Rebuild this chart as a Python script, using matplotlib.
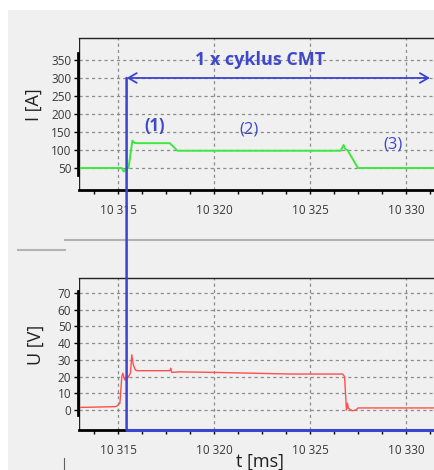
import matplotlib
matplotlib.use("Agg")
import matplotlib.pyplot as plt
from matplotlib.ticker import MultipleLocator, FuncFormatter, FixedLocator
from matplotlib.patches import ConnectionPatch, Rectangle
from matplotlib.lines import Line2D

plt.rcParams['font.family'] = ['Open Sans', 'DejaVu Sans']

# proud I [A]
t_I = [10313.0, 10315.2, 10315.3, 10315.45, 10315.55, 10315.75, 10315.85, 10316.0,
       10317.7, 10318.1, 10320.0, 10324.0, 10326.6, 10326.75, 10326.85, 10326.95,
       10327.5, 10332.0]
I_val = [50, 50, 40, 49, 50, 126, 120, 119,
         119, 98, 98, 98, 98, 114, 102, 100,
         50, 50]

# napeti U [V]
t_U = [10313.0, 10314.9, 10315.0, 10315.1, 10315.2, 10315.25, 10315.35, 10315.5,
       10315.65, 10315.72, 10315.8, 10315.9, 10316.0, 10317.7, 10317.75, 10317.8,
       10318.2, 10320.0, 10322.0, 10324.0, 10326.7, 10326.8, 10326.9, 10326.95,
       10327.0, 10327.2, 10327.4, 10327.5, 10332.0]
U_val = [1.5, 2, 3, 4, 20, 22, 18, 19,
         22, 33, 27, 24, 23.5, 23.5, 25, 22.5,
         22.8, 22.5, 22, 21.5, 21.5, 20, 0, 4,
         1, -0.5, 0, 1.2, 1.2]

I_ticks = [50, 100, 150, 200, 250, 300, 350]
U_ticks = [0, 10, 20, 30, 40, 50, 60, 70]

t_start = 10315.45   # zacatek cyklu
t_end = 10331.25
xlim = (10312.97, 10332.0)

blue = '#3a44d0'
txt_blue = '#3f48cc'
bg = '#f0f0f0'
tick_col = '#383838'

W, H = 435, 470
fig = plt.figure(figsize=(W / 100, H / 100), dpi=100, facecolor='white')
fig.add_artist(Rectangle((8 / W, 0), 1, 1 - 10 / H, transform=fig.transFigure,
                         facecolor=bg, edgecolor='none', zorder=-10))

ax_w = (xlim[1] - xlim[0]) * 19.2 / W
ax1 = fig.add_axes([79 / W, 1 - 190 / H, ax_w, 152 / H])
ax2 = fig.add_axes([79 / W, 1 - 430 / H, ax_w, 152 / H])


def fmt(v, pos):
    s = "%d" % round(v)
    return s[:-3] + " " + s[-3:]


for ax, ticks, ylim, bnd in [(ax1, I_ticks, (-11, 411), (30, 370)),
                             (ax2, U_ticks, (-12, 79), (-3, 71))]:
    ax.set_facecolor(bg)
    ax.set_xlim(*xlim)
    ax.set_ylim(*ylim)
    ax.xaxis.set_major_locator(MultipleLocator(5))
    ax.xaxis.set_minor_locator(MultipleLocator(1.25))
    ax.xaxis.set_major_formatter(FuncFormatter(fmt))
    ax.yaxis.set_major_locator(FixedLocator(ticks))
    ax.grid(True, which='major', ls=(0, (2.5, 2.5)), color='#8c8c8c', lw=0.9)
    ax.tick_params(axis='x', which='both', direction='out', length=3, width=1,
                   pad=7, labelsize=8.5, labelcolor=tick_col)
    ax.tick_params(axis='y', direction='out', length=3, width=1, pad=1.5,
                   labelsize=8.5, labelcolor=tick_col)
    ax.spines['left'].set_bounds(*bnd)
    ax.spines['left'].set_linewidth(2)
    ax.spines['left'].set_position(('outward', 1))
    ax.spines['bottom'].set_linewidth(2)
    ax.spines['top'].set_linewidth(1)
    ax.spines['top'].set_color('#222222')
    ax.axvline(xlim[0], color='#222222', lw=1)

ax1.plot(t_I, I_val, color='#3de83d', lw=1.4)
ax2.plot(t_U, U_val, color='#ff4f4f', lw=1.0)

# sipka 1 cyklus
ax1.annotate('', xy=(t_end, 300), xytext=(t_start, 300),
             arrowprops=dict(arrowstyle='<->,head_length=0.6,head_width=0.35',
                             color=blue, lw=1.3, shrinkA=0, shrinkB=0))
ax1.text(10322.4, 350, '1 x cyklus CMT', color=txt_blue, fontsize=13,
         fontweight='bold', ha='center', va='center')
ax1.text(10316.9, 167, '(1)', color=txt_blue, fontsize=12, fontweight='bold',
         ha='center', va='center')
ax1.text(10321.8, 156, '(2)', color=txt_blue, fontsize=12, ha='center', va='center')
ax1.text(10329.3, 114, '(3)', color=txt_blue, fontsize=12, ha='center', va='center')

con = ConnectionPatch(xyA=(t_start, 300), coordsA=ax1.transData,
                      xyB=(t_start, -12), coordsB=ax2.transData,
                      color=blue, lw=1.8, zorder=10)
fig.add_artist(con)
ax2.plot([t_start, xlim[1]], [-12, -12], color=blue, lw=2.2, clip_on=False, zorder=10)

fig.text(34 / W, 1 - 105 / H, 'I [A]', rotation=90, fontsize=13,
         ha='center', va='center', color='#202020')
fig.text(36 / W, 1 - 345 / H, 'U [V]', rotation=90, fontsize=13,
         ha='center', va='center', color='#202020')
fig.text(260 / W, 1 - 462 / H, 't [ms]', fontsize=13, ha='center', va='center',
         color='#202020')

# oddelovace okna
fig.add_artist(Line2D([65 / W, 1], [1 - 240 / H] * 2, color='#b4b4b4', lw=1.5))
fig.add_artist(Line2D([18 / W, 65 / W], [1 - 250 / H] * 2, color='#b4b4b4', lw=1.5))
fig.add_artist(Line2D([64 / W, 64 / W], [1 - 458 / H, 0], color='#606060', lw=0.8))

fig.savefig('out.png', dpi=100, facecolor=fig.get_facecolor())
